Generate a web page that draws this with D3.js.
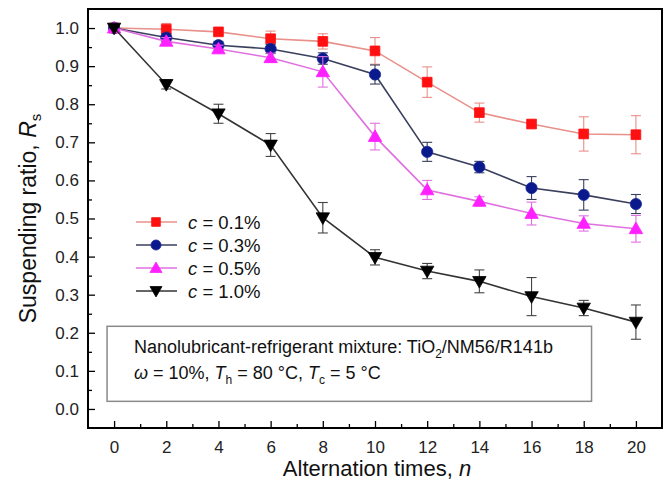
<!DOCTYPE html>
<html>
<head>
<meta charset="utf-8">
<script src="https://cdn.jsdelivr.net/npm/d3@7"></script>
<style>
  html, body { margin: 0; padding: 0; background: #fff; }
  svg { display: block; font-family: "Liberation Sans", Arial, sans-serif; }
</style>
</head>
<body>
<svg id="chart" width="670" height="483"></svg>
<script>
// Alternation times
const alternations = [0, 2, 4, 6, 8, 10, 12, 14, 16, 18, 20];

// Suspending ratio R_s per nanoparticle concentration
const rs01 = [1.0, 0.997, 0.990, 0.972, 0.965, 0.940, 0.858, 0.778, 0.748, 0.722, 0.720];
const rs03 = [1.0, 0.975, 0.955, 0.945, 0.920, 0.878, 0.675, 0.635, 0.580, 0.562, 0.538];
const rs05 = [1.0, 0.965, 0.945, 0.922, 0.885, 0.715, 0.575, 0.545, 0.513, 0.487, 0.473];
const rs10 = [1.0, 0.852, 0.775, 0.693, 0.502, 0.398, 0.362, 0.335, 0.295, 0.265, 0.228];

// Error bar half-widths
const err01 = [0, 0.015, 0.008, 0.020, 0.020, 0.035, 0.040, 0.025, 0.010, 0.045, 0.050];
const err03 = [0, 0.010, 0.010, 0.012, 0.015, 0.025, 0.025, 0.015, 0.030, 0.040, 0.025];
const err05 = [0, 0.010, 0.010, 0.012, 0.040, 0.035, 0.025, 0.012, 0.030, 0.020, 0.035];
const err10 = [0, 0.012, 0.025, 0.030, 0.040, 0.020, 0.020, 0.030, 0.050, 0.020, 0.045];

const seriesLabels = ["0.1%", "0.3%", "0.5%", "1.0%"];
const xTicks = [0, 2, 4, 6, 8, 10, 12, 14, 16, 18, 20];
const yTicks = [0.0, 0.1, 0.2, 0.3, 0.4, 0.5, 0.6, 0.7, 0.8, 0.9, 1.0];

const styles = [
  { fill: "#ff1010", line: "#e8908a", err: "#e8908a", shape: "square" },
  { fill: "#0a1a8c", line: "#3a3f5c", err: "#3a3f5c", shape: "circle" },
  { fill: "#ff20ff", line: "#e070e0", err: "#e070e0", shape: "triangle" },
  { fill: "#000000", line: "#333333", err: "#444444", shape: "triangleDown" }
];

const allErrors = [err01, err03, err05, err10];
const series = [rs01, rs03, rs05, rs10].map((vals, i) => ({
  label: seriesLabels[i],
  style: styles[i],
  points: alternations.map((n, j) => ({ n, v: vals[j], e: allErrors[i][j] }))
}));

const svg = d3.select("#chart");
const plotL = 88, plotR = 662, plotT = 9, plotB = 428;

const x = d3.scaleLinear().domain([-1, 21]).range([plotL, plotR]);
const y = d3.scaleLinear().domain([-0.05, 1.05]).range([plotB, plotT]);

// Inward ticks: major with labels, minor in between
const axesG = svg.append("g");

const yAxis = d3.axisLeft(y).tickValues(yTicks).tickSize(-7).tickPadding(9)
  .tickFormat(d3.format(".1f"));
const yMinor = d3.axisLeft(y).tickValues(d3.range(0.05, 1.0, 0.1)).tickSize(-4).tickFormat("");
const xAxis = d3.axisBottom(x).tickValues(xTicks).tickSize(-7).tickPadding(13)
  .tickFormat(d3.format("d"));
const xMinor = d3.axisBottom(x).tickValues(d3.range(1, 20, 2)).tickSize(-4).tickFormat("");

function styleAxis(sel) {
  sel.select(".domain").remove();
  sel.selectAll(".tick line").attr("stroke", "#000").attr("stroke-width", 1.3);
  sel.selectAll(".tick text").attr("fill", "#222").style("font-size", "17px")
    .style("font-family", "'Liberation Sans', Arial, sans-serif");
}

axesG.append("g").attr("transform", `translate(${plotL},0)`).call(yAxis).call(styleAxis);
axesG.append("g").attr("transform", `translate(${plotL},0)`).call(yMinor).call(styleAxis);
axesG.append("g").attr("transform", `translate(0,${plotB})`).call(xAxis).call(styleAxis);
axesG.append("g").attr("transform", `translate(0,${plotB})`).call(xMinor).call(styleAxis);

// Plot frame
svg.append("rect")
  .attr("x", plotL).attr("y", plotT)
  .attr("width", plotR - plotL).attr("height", plotB - plotT)
  .attr("fill", "none").attr("stroke", "#000").attr("stroke-width", 2);

// Annotation box
const boxX0 = x(-0.27), boxX1 = x(18.3), boxY0 = y(0.217), boxY1 = y(0.02);
svg.append("rect")
  .attr("x", boxX0).attr("y", boxY0)
  .attr("width", boxX1 - boxX0).attr("height", boxY1 - boxY0)
  .attr("fill", "#fff").attr("stroke", "#8a8a8a").attr("stroke-width", 1.5);

const note1 = svg.append("text").attr("x", boxX0 + 27).attr("y", boxY0 + 27)
  .style("font-size", "18px").attr("fill", "#111");
note1.append("tspan").text("Nanolubricant-refrigerant mixture: TiO");
note1.append("tspan").attr("dy", 5).style("font-size", "12px").text("2");
note1.append("tspan").attr("dy", -5).text("/NM56/R141b");

const note2 = svg.append("text").attr("x", boxX0 + 27).attr("y", boxY0 + 53)
  .style("font-size", "18px").attr("fill", "#111");
note2.append("tspan").style("font-style", "italic").text("ω");
note2.append("tspan").text(" = 10%, ");
note2.append("tspan").style("font-style", "italic").text("T");
note2.append("tspan").attr("dy", 5).style("font-size", "12px").text("h");
note2.append("tspan").attr("dy", -5).text(" = 80 °C, ");
note2.append("tspan").style("font-style", "italic").text("T");
note2.append("tspan").attr("dy", 5).style("font-size", "12px").text("c");
note2.append("tspan").attr("dy", -5).text(" = 5 °C");

// Marker shapes
const symbolFor = (shape, k = 1) => {
  if (shape === "square") return d3.symbol().type(d3.symbolSquare).size(95 * k)();
  if (shape === "circle") return d3.symbol().type(d3.symbolCircle).size(100 * k)();
  return d3.symbol().type(d3.symbolTriangle).size(78 * k)();
};
function drawMarker(sel, st, k = 1) {
  return sel.append("path")
    .attr("d", symbolFor(st.shape, k))
    .attr("fill", st.fill)
    .attr("stroke", st.shape === "circle" ? "#1a2a9a" : st.fill)
    .attr("stroke-width", 0.8);
}
const markerTransform = (st, px, py) =>
  `translate(${px},${py})` + (st.shape === "triangleDown" ? " rotate(180)" : "") +
  (st.shape === "triangle" || st.shape === "triangleDown" ? " translate(0,1)" : "");

const line = d3.line().x(d => x(d.n)).y(d => y(d.v));

series.forEach(s => {
  const sg = svg.append("g");
  sg.append("path").datum(s.points).attr("d", line)
    .attr("fill", "none").attr("stroke", s.style.line).attr("stroke-width", 1.6);

  // Error bars
  const eb = sg.selectAll(".eb").data(s.points.filter(p => p.e > 0)).join("g")
    .attr("stroke", s.style.err).attr("stroke-width", 1.1);
  eb.append("line").attr("x1", d => x(d.n)).attr("x2", d => x(d.n))
    .attr("y1", d => y(d.v - d.e)).attr("y2", d => y(d.v + d.e));
  eb.append("line").attr("x1", d => x(d.n) - 5).attr("x2", d => x(d.n) + 5)
    .attr("y1", d => y(d.v + d.e)).attr("y2", d => y(d.v + d.e));
  eb.append("line").attr("x1", d => x(d.n) - 5).attr("x2", d => x(d.n) + 5)
    .attr("y1", d => y(d.v - d.e)).attr("y2", d => y(d.v - d.e));

  s.points.forEach(p => {
    drawMarker(sg, s.style).attr("transform", markerTransform(s.style, x(p.n), y(p.v)));
  });
});

// Legend
const legX = 156, legY0 = 222, legDy = 23;
series.forEach((s, i) => {
  const ly = legY0 + i * legDy;
  svg.append("line").attr("x1", legX - 20).attr("x2", legX + 21)
    .attr("y1", ly).attr("y2", ly)
    .attr("stroke", s.style.line).attr("stroke-width", 1.6);
  drawMarker(svg, s.style, 0.8).attr("transform", markerTransform(s.style, legX, ly));
  const t = svg.append("text").attr("x", legX + 32).attr("y", ly + 6.5)
    .style("font-size", "18.5px").attr("fill", "#111");
  t.append("tspan").style("font-style", "italic").text("c");
  t.append("tspan").text(" = " + s.label);
});

// Axis titles
const xt = svg.append("text").attr("x", (plotL + plotR) / 2 + 2).attr("y", 476)
  .attr("text-anchor", "middle").style("font-size", "22px").attr("fill", "#111");
xt.append("tspan").text("Alternation times, ");
xt.append("tspan").style("font-style", "italic").text("n");

const yt = svg.append("text")
  .attr("transform", `translate(36,${(plotT + plotB) / 2}) rotate(-90)`)
  .attr("text-anchor", "middle").style("font-size", "23px").attr("fill", "#111");
yt.append("tspan").text("Suspending ratio, ");
yt.append("tspan").style("font-style", "italic").text("R");
yt.append("tspan").attr("dy", 5).style("font-size", "15px").text("s");
</script>
</body>
</html>
